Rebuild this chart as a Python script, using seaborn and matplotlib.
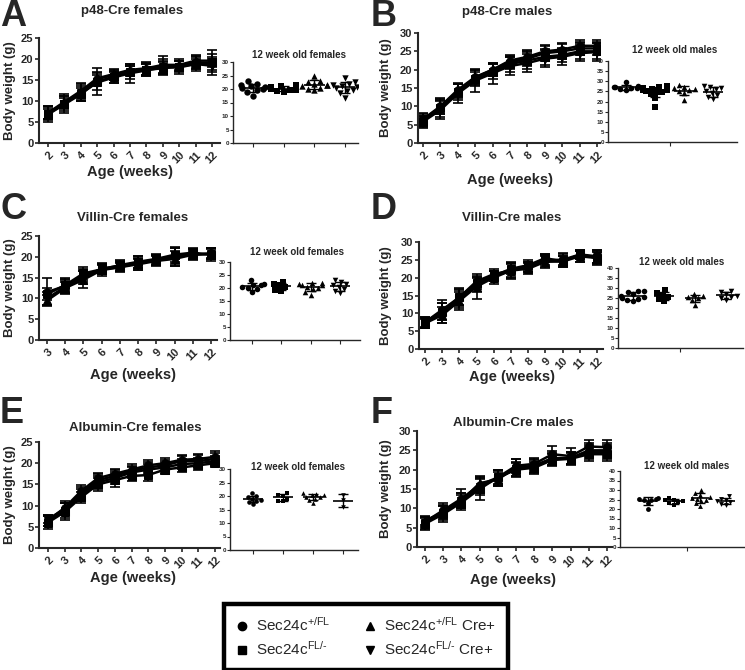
import numpy as np
import pandas as pd
import matplotlib
matplotlib.use('Agg')
import matplotlib.pyplot as plt
import seaborn as sns
from matplotlib.lines import Line2D

# ---- data ----
genotypes = ['+/FL', 'FL/-', '+/FL Cre+', 'FL/- Cre+']
markers = ['o', 's', '^', 'v']

weeks_2_12 = [2, 3, 4, 5, 6, 7, 8, 9, 10, 11, 12]
weeks_3_12 = [3, 4, 5, 6, 7, 8, 9, 10, 11, 12]

# line plots: mean and SD per genotype (order as genotypes)
a_mean = [[7.0, 9.6, 12.0, 15.2, 16.2, 17.2, 17.6, 18.2, 18.4, 19.2, 19.0],
          [6.8, 9.2, 11.6, 14.6, 15.8, 16.8, 17.4, 17.8, 18.2, 18.8, 19.2],
          [7.2, 9.8, 12.4, 15.4, 16.4, 17.4, 17.8, 18.6, 18.6, 19.6, 19.6],
          [6.9, 9.4, 11.8, 14.4, 15.6, 16.6, 17.3, 18.0, 18.0, 18.8, 18.4]]
a_sd = [[1.5, 1.6, 2.0, 1.5, 1.3, 1.2, 1.5, 1.8, 1.2, 1.5, 1.5],
        [1.2, 1.5, 1.6, 3.2, 1.4, 1.5, 1.5, 1.5, 1.4, 1.2, 3.0],
        [1.5, 1.4, 2.0, 1.5, 1.3, 1.3, 1.5, 2.0, 1.3, 1.4, 1.5],
        [2.0, 2.2, 1.8, 1.8, 1.4, 2.2, 1.4, 1.6, 1.6, 1.6, 1.6]]

b_mean = [[6.5, 10.0, 14.5, 18.0, 20.0, 22.5, 23.5, 25.0, 25.5, 26.5, 26.5],
          [6.0, 9.5, 14.0, 17.5, 19.5, 21.5, 22.5, 23.5, 24.0, 25.0, 25.0],
          [6.3, 9.8, 14.2, 17.8, 20.0, 22.0, 23.0, 24.5, 25.0, 25.8, 25.8],
          [5.8, 9.0, 13.5, 17.0, 19.0, 21.0, 21.8, 23.0, 23.5, 24.5, 24.8]]
b_sd = [[1.8, 2.2, 2.0, 1.8, 1.6, 1.6, 1.8, 1.8, 1.8, 1.6, 1.6],
        [1.5, 2.5, 2.2, 2.0, 2.0, 2.0, 2.2, 2.2, 2.0, 2.2, 2.2],
        [1.6, 2.0, 2.0, 2.0, 1.8, 1.8, 2.0, 2.0, 2.0, 1.8, 1.8],
        [1.6, 2.5, 2.5, 3.2, 2.8, 2.5, 2.5, 2.3, 2.2, 2.2, 2.4]]

c_mean = [[11.5, 13.0, 15.5, 17.0, 17.5, 18.5, 19.2, 20.0, 20.5, 20.8],
          [11.0, 13.2, 16.0, 17.0, 18.0, 18.8, 19.5, 20.5, 21.0, 20.5],
          [9.5, 12.5, 14.5, 16.8, 17.5, 18.2, 19.0, 19.5, 20.5, 20.8],
          [10.0, 12.8, 15.0, 17.2, 17.8, 18.5, 19.2, 20.2, 20.6, 20.6]]
c_sd = [[3.3, 1.8, 1.5, 1.2, 1.0, 1.2, 1.2, 2.2, 1.0, 1.2],
        [1.5, 1.5, 1.5, 1.2, 1.2, 1.5, 1.2, 1.8, 1.2, 1.5],
        [1.2, 1.5, 2.0, 1.3, 1.2, 1.3, 1.2, 1.8, 1.3, 1.3],
        [1.5, 1.6, 1.6, 1.2, 1.2, 1.6, 1.2, 2.0, 1.2, 1.2]]

d_mean = [[7.5, 11.0, 14.5, 19.0, 21.0, 22.0, 23.0, 25.0, 25.0, 26.5, 26.0],
          [7.5, 10.5, 14.5, 18.5, 20.5, 22.5, 23.5, 25.5, 24.5, 26.5, 25.5],
          [7.2, 9.5, 13.5, 17.5, 20.0, 22.0, 22.5, 24.5, 24.5, 26.0, 25.5],
          [7.5, 10.0, 14.0, 18.0, 20.5, 22.0, 23.0, 24.5, 25.0, 26.0, 26.0]]
d_sd = [[1.5, 2.8, 2.2, 1.6, 1.5, 2.0, 1.5, 1.5, 1.8, 1.2, 1.8],
        [1.2, 2.5, 2.5, 1.8, 1.5, 1.5, 1.5, 1.2, 1.5, 1.2, 2.0],
        [1.2, 2.2, 2.5, 3.5, 1.8, 2.3, 1.5, 1.8, 1.5, 1.5, 1.8],
        [1.5, 2.8, 2.5, 2.0, 1.5, 1.8, 1.5, 1.5, 1.5, 1.5, 1.8]]

e_mean = [[6.5, 9.5, 13.5, 16.5, 17.5, 18.5, 19.5, 20.0, 20.8, 21.0, 21.5],
          [6.0, 8.5, 12.0, 15.0, 16.0, 17.0, 17.2, 18.5, 19.0, 19.5, 20.0],
          [6.8, 9.2, 13.0, 16.0, 17.0, 18.2, 19.0, 19.5, 20.5, 20.5, 21.0],
          [6.3, 8.8, 12.5, 15.5, 16.5, 17.8, 18.5, 19.0, 19.8, 20.0, 20.5]]
e_sd = [[1.2, 1.5, 1.3, 1.3, 1.2, 1.2, 1.3, 1.2, 1.2, 1.2, 1.3],
        [1.5, 2.0, 1.3, 1.5, 1.5, 1.2, 1.3, 1.0, 1.0, 1.0, 1.0],
        [1.0, 1.5, 1.5, 1.5, 1.5, 1.2, 1.3, 1.2, 1.3, 1.4, 1.5],
        [1.2, 1.8, 1.5, 1.5, 1.5, 1.2, 1.2, 1.2, 1.2, 1.2, 1.2]]

f_mean = [[6.5, 9.5, 12.5, 16.0, 18.0, 21.0, 21.5, 24.0, 23.5, 26.0, 25.8],
          [6.0, 8.5, 11.5, 15.0, 18.0, 20.0, 20.5, 22.5, 22.8, 24.0, 24.0],
          [6.8, 9.0, 12.0, 16.5, 17.5, 20.5, 21.0, 23.0, 23.0, 25.0, 25.0],
          [6.2, 8.8, 12.0, 15.5, 17.8, 20.2, 21.0, 22.8, 23.0, 24.5, 24.5]]
f_sd = [[1.2, 1.8, 2.5, 2.0, 1.8, 1.8, 1.6, 2.0, 2.0, 1.8, 2.0],
        [1.5, 2.0, 2.0, 2.8, 2.0, 1.8, 1.6, 1.5, 1.5, 1.8, 1.8],
        [1.2, 1.8, 2.0, 1.8, 1.8, 2.2, 1.8, 1.8, 1.5, 1.8, 1.8],
        [1.5, 1.8, 2.0, 2.0, 2.0, 1.8, 1.6, 1.5, 1.5, 1.8, 1.8]]

# 12 week old scatter: individual animals per genotype
a_pts = [[17.5, 18.8, 19.5, 20.0, 20.3, 20.6, 21.0, 21.5, 22.0, 23.0],
         [19.0, 19.3, 19.6, 19.8, 20.0, 20.2, 20.4, 20.8, 21.2, 21.5],
         [19.5, 20.0, 20.5, 21.0, 21.3, 21.6, 22.0, 22.5, 23.0, 25.0],
         [16.8, 18.5, 19.2, 19.8, 20.3, 20.6, 21.0, 21.5, 22.0, 22.5, 24.0]]
b_pts = [[25.5, 26.0, 26.5, 26.8, 27.0, 27.2, 27.5, 29.5],
         [17.5, 21.5, 23.5, 24.5, 24.8, 25.0, 25.5, 25.8, 26.0, 26.2, 26.5, 27.0, 27.5],
         [20.5, 24.0, 25.0, 25.5, 26.0, 26.5, 27.0, 28.0],
         [21.0, 22.0, 23.0, 24.0, 25.0, 26.0, 26.5, 27.0, 27.5]]
c_pts = [[18.5, 19.5, 20.0, 20.5, 21.0, 21.2, 21.5, 23.0],
         [19.0, 19.2, 20.5, 21.0, 21.5, 22.5],
         [17.5, 18.5, 19.5, 20.0, 20.5, 21.0, 21.2, 21.5, 21.8, 22.0],
         [18.0, 19.0, 19.5, 20.5, 21.0, 21.5, 22.5, 23.0]]
d_pts = [[23.5, 24.0, 24.5, 25.0, 25.5, 26.0, 27.0, 28.0, 28.5, 28.5],
         [23.5, 24.5, 25.5, 26.5, 27.5, 29.0],
         [21.5, 24.0, 25.0, 25.5, 26.0, 27.0],
         [24.0, 25.0, 25.5, 26.0, 27.0, 28.0, 28.5]]
e_pts = [[17.0, 17.8, 18.2, 18.5, 19.0, 19.5, 20.0, 21.0],
         [18.0, 18.2, 19.0, 20.0, 20.5, 21.0],
         [17.5, 18.5, 19.0, 19.5, 19.8, 20.2, 20.5, 20.8, 21.0],
         [16.0, 18.5, 20.5]]
f_pts = [[20.0, 23.0, 24.5, 25.0, 25.5, 25.5, 26.0],
         [22.0, 23.0, 23.5, 24.0, 24.5, 25.0, 26.0],
         [21.5, 23.0, 24.0, 25.0, 25.5, 26.0, 26.5, 27.5, 28.5, 30.0],
         [22.0, 22.5, 23.5, 24.0, 25.0, 25.5, 27.0]]

titles = ['p48-Cre females', 'p48-Cre males', 'Villin-Cre females',
          'Villin-Cre males', 'Albumin-Cre females', 'Albumin-Cre males']
letters = ['A', 'B', 'C', 'D', 'E', 'F']
legend_labels = [r'Sec24c$^{\text{+/FL}}$', r'Sec24c$^{\text{FL/-}}$',
                 r'Sec24c$^{\text{+/FL}}$ Cre+', r'Sec24c$^{\text{FL/-}}$ Cre+']

# ---- style ----
sns.set_style('ticks')
plt.rcParams['font.family'] = ['Liberation Sans', 'DejaVu Sans']
plt.rcParams['mathtext.fontset'] = 'custom'
plt.rcParams['mathtext.rm'] = 'Liberation Sans'
plt.rcParams['mathtext.it'] = 'Liberation Sans:italic'
plt.rcParams['mathtext.bf'] = 'Liberation Sans:bold'

W, H = 745, 670
fig = plt.figure(figsize=(W / 100, H / 100), dpi=100)


def px_axes(x0, y0, x1, y1):
    return fig.add_axes([x0 / W, 1 - y1 / H, (x1 - x0) / W, (y1 - y0) / H])


def ftext(x, y, s, **kw):
    fig.text(x / W, 1 - y / H, s, **kw)


def bold_ticks(ax):
    for t in ax.get_xticklabels() + ax.get_yticklabels():
        t.set_fontweight('bold')


def line_panel(box, weeks, means, sds, ymax, p0, p1, ylab_x):
    x0, y0, x1, y1 = box
    ax = px_axes(*box)
    for mean, sd, m in zip(means, sds, markers):
        ax.errorbar(weeks, mean, yerr=sd, fmt='none', ecolor='black',
                    elinewidth=1.2, capsize=3.8, capthick=1.2, zorder=2)
        sns.lineplot(x=weeks, y=mean, marker=m, color='black', lw=1.8,
                     markersize=5.5, markeredgecolor='black', ax=ax, zorder=3)
    unit = (p1 - p0) / (weeks[-1] - weeks[0])
    ax.set_xlim(weeks[0] - (p0 - x0) / unit, weeks[-1] + (x1 - p1) / unit)
    ax.set_ylim(0, ymax)
    ax.set_xticks(weeks)
    ax.set_xticklabels([str(w) for w in weeks], rotation=45, ha='right',
                       rotation_mode='anchor', fontsize=8)
    ax.set_yticks(range(0, ymax + 1, 5))
    ax.tick_params(axis='y', labelsize=8, length=3, width=1.2, pad=1)
    ax.tick_params(axis='x', length=3, width=1.2, pad=2)
    bold_ticks(ax)
    for s in ['left', 'bottom']:
        ax.spines[s].set_linewidth(1.5)
    sns.despine(ax=ax)
    ax.set_xlabel('')
    ax.set_ylabel('')
    ftext(ylab_x, (y0 + y1) / 2, 'Body weight (g)', rotation=90, ha='center',
          va='center', fontsize=9.5, fontweight='bold')
    return ax


def scatter_panel(box, pts, ymax, g0, gs, ticks, size):
    x0, y0, x1, y1 = box
    ax = px_axes(*box)
    df = pd.DataFrame({'group': [g for g, p in zip(genotypes, pts) for _ in p],
                       'weight': [v for p in pts for v in p]})
    for g, m in zip(genotypes, markers):
        sns.swarmplot(data=df[df['group'] == g], x='group', y='weight',
                      order=genotypes, marker=m, color='black', size=size,
                      ax=ax, zorder=2)
    for i, p in enumerate(pts):
        mu, sd = np.mean(p), np.std(p, ddof=1)
        ax.hlines(mu, i - 0.33, i + 0.33, color='black', lw=1.2, zorder=3)
        ax.errorbar(i, mu, yerr=sd, fmt='none', ecolor='black', elinewidth=1,
                    capsize=3.5, capthick=1, zorder=3)
    ax.set_xlim(-(g0 - x0) / gs, (x1 - g0) / gs)
    ax.set_ylim(0, ymax)
    ax.set_xticks(ticks)
    ax.set_xticklabels([])
    ax.set_yticks(range(0, ymax + 1, 5))
    ax.tick_params(axis='y', labelsize=4.5, length=2, width=0.8, pad=1)
    ax.tick_params(axis='x', length=3, width=0.8)
    bold_ticks(ax)
    for s in ['left', 'bottom']:
        ax.spines[s].set_linewidth(1)
    sns.despine(ax=ax)
    ax.set_xlabel('')
    ax.set_ylabel('')
    return ax


fem_ticks = [0, 1, 2, 3]
male_ticks = [1.5]

# A
line_panel((39, 38, 220, 143), weeks_2_12, a_mean, a_sd, 25, 48, 212, 10)
scatter_panel((233, 62, 358, 143), a_pts, 30, 253, 30.7, fem_ticks, 4.6)
# B
line_panel((418, 33, 600, 143), weeks_2_12, b_mean, b_sd, 30, 423, 597, 386)
scatter_panel((608, 61, 737, 142), b_pts, 40, 626, 29, male_ticks, 4)
# C
line_panel((39, 236, 217, 340), weeks_3_12, c_mean, c_sd, 25, 47, 211, 10)
scatter_panel((230, 262, 360, 340), c_pts, 30, 252, 29.3, fem_ticks, 4)
# D
line_panel((419, 242, 603, 349), weeks_2_12, d_mean, d_sd, 30, 425, 597, 386)
scatter_panel((618, 268, 743, 348), d_pts, 40, 633, 31, male_ticks, 4)
# E
line_panel((39, 442, 220, 548), weeks_2_12, e_mean, e_sd, 25, 48, 215, 10)
scatter_panel((230, 469, 358, 550), e_pts, 30, 253, 30, fem_ticks, 3.3)
# F
line_panel((417, 431, 612, 547), weeks_2_12, f_mean, f_sd, 30, 425, 607, 386)
scatter_panel((620, 471, 745, 547), f_pts, 40, 648, 26, male_ticks, 3.5)

# titles, letters, axis labels
title_pos = [(132, 11), (507, 12), (133, 218), (512, 218), (135, 428), (513, 423)]
stitle_pos = [(299, 55), (675, 50), (297, 252), (682, 262), (298, 467), (687, 466)]
stitle_txt = ['12 week old females', '12 week old males'] * 3
letter_pos = [(0, -1), (371, -1), (0, 192), (371, 192), (0, 396), (371, 396)]
age_pos = [(130, 172), (510, 180), (133, 375), (512, 377), (133, 578), (513, 580)]
for i in range(6):
    ftext(*title_pos[i], titles[i], ha='center', va='center', fontsize=9.5,
          fontweight='bold')
    ftext(*stitle_pos[i], stitle_txt[i], ha='center', va='center', fontsize=7,
          fontweight='bold')
    ftext(*letter_pos[i], letters[i], ha='left', va='top', fontsize=26,
          fontweight='bold')
    ftext(*age_pos[i], 'Age (weeks)', ha='center', va='center', fontsize=10.5,
          fontweight='bold')

# legend box
handles = [Line2D([], [], marker=m, color='black', ls='none', markersize=6)
           for m in markers]
leg = fig.legend(handles, legend_labels, ncol=2, loc='center',
                 bbox_to_anchor=(366 / W, 1 - 637 / H), frameon=True,
                 fancybox=False, edgecolor='black', framealpha=1,
                 handlelength=0.8, handletextpad=0.5, columnspacing=2.2,
                 borderpad=0.8, labelspacing=0.4,
                 prop={'size': 11, 'weight': 'normal'})
leg.get_frame().set_linewidth(3.2)

fig.savefig('out.png', dpi=100)
